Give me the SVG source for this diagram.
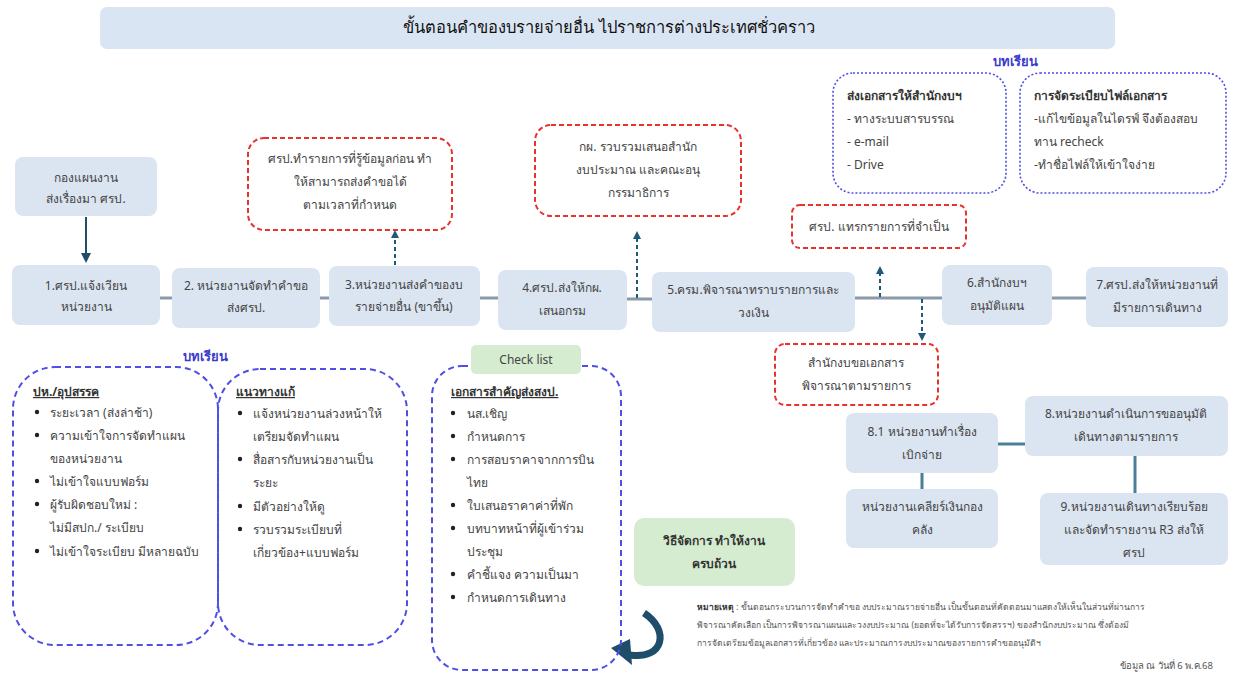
<svg xmlns="http://www.w3.org/2000/svg" width="1237" height="680" viewBox="0 0 1237 680">
<defs>
<style>
.t{font-family:"Noto Sans","Liberation Sans",sans-serif;font-size:12px;fill:#444;text-anchor:middle}
.l{font-family:"Noto Sans","Liberation Sans",sans-serif;font-size:12px;fill:#444}
.b{font-weight:bold;fill:#333}
.u{text-decoration:underline;font-weight:bold;fill:#333}
.n{fill:#dbe5f1;stroke:none}
.g{fill:#d5ecd0;stroke:none}
.rd{fill:#fff;stroke:#e8322e;stroke-width:2;stroke-dasharray:5,3}
.bd{fill:#fff;stroke:#4f4fe6;stroke-width:1.6;stroke-dasharray:2,2}
.bd2{fill:none;stroke:#4f4fe6;stroke-width:2;stroke-dasharray:6,4}
.c{stroke:#8a9aa8;stroke-width:3;fill:none}
.c2{stroke:#4a7f9a;stroke-width:3;fill:none}
.da{stroke:#1f5a7a;stroke-width:2;stroke-dasharray:4,3;fill:none}
.h{font-family:"Noto Sans","Liberation Sans",sans-serif;font-size:13px;font-weight:bold;fill:#3a3acc;text-anchor:middle}
</style>
<marker id="ah" markerWidth="8" markerHeight="8" refX="4" refY="4" orient="auto" markerUnits="userSpaceOnUse">
<path d="M0,0 L8,4 L0,8 z" fill="#1f5a7a"/>
</marker>
<marker id="ah2" markerWidth="10" markerHeight="10" refX="5" refY="5" orient="auto" markerUnits="userSpaceOnUse">
<path d="M0,0 L10,5 L0,10 z" fill="#1f4e6b"/>
</marker>
</defs>
<rect width="1237" height="680" fill="#fff"/>

<g id="title">
<rect x="100" y="7" width="1015" height="42" rx="7" fill="#dae5f3"/>
<text x="609" y="33" font-family="Noto Sans, Liberation Sans, sans-serif" font-size="16.5" fill="#111" text-anchor="middle">ขั้นตอนคำของบรายจ่ายอื่น ไปราชการต่างประเทศชั่วคราว</text>
</g>

<g id="connectors">
<line x1="86" y1="217" x2="86" y2="258" stroke="#1f4e6b" stroke-width="2" marker-end="url(#ah2)"/>
<line class="c" x1="160" y1="298" x2="172" y2="298"/>
<line class="c" x1="320" y1="298" x2="329" y2="298"/>
<line class="c" x1="480" y1="298" x2="498" y2="298"/>
<line class="c" x1="627" y1="299" x2="652" y2="299"/>
<line class="c" x1="855" y1="298" x2="942" y2="298"/>
<line class="c" x1="1052" y1="298" x2="1086" y2="298"/>
<line class="da" x1="395" y1="265" x2="395" y2="234" marker-end="url(#ah)"/>
<line class="da" x1="637" y1="298" x2="637" y2="235" marker-end="url(#ah)"/>
<line class="da" x1="880" y1="297" x2="880" y2="270" marker-end="url(#ah)"/>
<line class="da" x1="922" y1="299" x2="922" y2="337" marker-end="url(#ah)"/>
<line class="c2" x1="998" y1="444" x2="1025" y2="444"/>
<line class="c2" x1="922" y1="473" x2="922" y2="489"/>
<line class="c2" x1="1135" y1="456" x2="1135" y2="493"/>
<path d="M644,613 C670,630 664,660 630,655" stroke="#1f4e6b" stroke-width="7" fill="none"/>
<path d="M611,648 L630,639 L632,665 z" fill="#1f4e6b"/>
</g>

<g id="n0"><rect class="n" x="15" y="157" width="142" height="59" rx="8"/>
<text class="t" x="86" y="182">กองแผนงาน</text><text class="t" x="86" y="203">ส่งเรื่องมา ศรป.</text></g>
<g id="n1"><rect class="n" x="12" y="265" width="148" height="60" rx="8"/>
<text class="t" x="86" y="290">1.ศรป.แจ้งเวียน</text><text class="t" x="86" y="311">หน่วยงาน</text></g>
<g id="n2"><rect class="n" x="172" y="268" width="148" height="60" rx="8"/>
<text class="t" x="246" y="290">2. หน่วยงานจัดทำคำขอ</text><text class="t" x="246" y="312">ส่งศรป.</text></g>
<g id="n3"><rect class="n" x="329" y="266" width="151" height="60" rx="8"/>
<text class="t" x="404" y="289">3.หน่วยงานส่งคำของบ</text><text class="t" x="404" y="311">รายจ่ายอื่น (ขาขึ้น)</text></g>
<g id="n4"><rect class="n" x="498" y="270" width="129" height="60" rx="8"/>
<text class="t" x="562" y="292">4.ศรป.ส่งให้กผ.</text><text class="t" x="562" y="315">เสนอกรม</text></g>
<g id="n5"><rect class="n" x="652" y="272" width="203" height="60" rx="8"/>
<text class="t" x="753" y="294">5.ครม.พิจารณาทราบรายการและ</text><text class="t" x="753" y="317">วงเงิน</text></g>
<g id="n6"><rect class="n" x="942" y="265" width="110" height="60" rx="8"/>
<text class="t" x="997" y="287">6.สำนักงบฯ</text><text class="t" x="997" y="310">อนุมัติแผน</text></g>
<g id="n7"><rect class="n" x="1086" y="267" width="142" height="60" rx="8"/>
<text class="t" x="1157" y="289">7.ศรป.ส่งให้หน่วยงานที่</text><text class="t" x="1157" y="312">มีรายการเดินทาง</text></g>

<g id="r1"><rect class="rd" x="248" y="138" width="204" height="92" rx="16"/>
<text class="t" x="350" y="163">ศรป.ทำรายการที่รู้ข้อมูลก่อน ทำ</text><text class="t" x="350" y="186">ให้สามารถส่งคำขอได้</text><text class="t" x="350" y="209">ตามเวลาที่กำหนด</text></g>
<g id="r2"><rect class="rd" x="535" y="125" width="206" height="91" rx="16"/>
<text class="t" x="638" y="151">กผ. รวบรวมเสนอสำนัก</text><text class="t" x="638" y="174">งบประมาณ และคณะอนุ</text><text class="t" x="638" y="197">กรรมาธิการ</text></g>
<g id="r3"><rect class="rd" x="792" y="205" width="174" height="43" rx="8"/>
<text class="t" x="879" y="231">ศรป. แทรกรายการที่จำเป็น</text></g>
<g id="r4"><rect class="rd" x="775" y="344" width="163" height="61" rx="10"/>
<text class="t" x="856" y="367">สำนักงบขอเอกสาร</text><text class="t" x="856" y="390">พิจารณาตามรายการ</text></g>

<text class="h" x="1015" y="66">บทเรียน</text>
<g id="l1"><rect class="bd" x="833" y="73" width="173" height="120" rx="20"/>
<text class="l b" x="847" y="100">ส่งเอกสารให้สำนักงบฯ</text>
<text class="l" x="847" y="123">- ทางระบบสารบรรณ</text>
<text class="l" x="847" y="146">- e-mail</text>
<text class="l" x="847" y="169">- Drive</text></g>
<g id="l2"><rect class="bd" x="1020" y="73" width="206" height="120" rx="20"/>
<text class="l b" x="1034" y="100">การจัดระเบียบไฟล์เอกสาร</text>
<text class="l" x="1034" y="123">-แก้ไขข้อมูลในไดรฟ์ จึงต้องสอบ</text>
<text class="l" x="1034" y="146">ทาน recheck</text>
<text class="l" x="1034" y="169">-ทำชื่อไฟล์ให้เข้าใจง่าย</text></g>

<g id="n8"><rect class="n" x="1025" y="396" width="203" height="60" rx="8"/>
<text class="t" x="1126" y="418">8.หน่วยงานดำเนินการขออนุมัติ</text><text class="t" x="1126" y="441">เดินทางตามรายการ</text></g>
<g id="n81"><rect class="n" x="846" y="413" width="152" height="60" rx="8"/>
<text class="t" x="922" y="436">8.1 หน่วยงานทำเรื่อง</text><text class="t" x="922" y="459">เบิกจ่าย</text></g>
<g id="n82"><rect class="n" x="846" y="489" width="152" height="59" rx="8"/>
<text class="t" x="922" y="511">หน่วยงานเคลียร์เงินกอง</text><text class="t" x="922" y="534">คลัง</text></g>
<g id="n9"><rect class="n" x="1040" y="493" width="188" height="72" rx="8"/>
<text class="t" x="1134" y="511">9.หน่วยงานเดินทางเรียบร้อย</text><text class="t" x="1134" y="534">และจัดทำรายงาน R3 ส่งให้</text><text class="t" x="1134" y="557">ศรป</text></g>

<text class="h" x="205" y="361">บทเรียน</text>
<g id="lA"><rect class="bd2" x="13" y="367" width="205" height="278" rx="42"/>
<text class="l u" x="33" y="396">ปห./อุปสรรค</text>
<circle cx="37" cy="412" r="2.2" fill="#222"/><circle cx="37" cy="435" r="2.2" fill="#222"/><circle cx="37" cy="481" r="2.2" fill="#222"/><circle cx="37" cy="504" r="2.2" fill="#222"/><circle cx="37" cy="551" r="2.2" fill="#222"/>
<text class="l" x="50" y="417">ระยะเวลา (ส่งล่าช้า)</text>
<text class="l" x="50" y="440">ความเข้าใจการจัดทำแผน</text>
<text class="l" x="50" y="463">ของหน่วยงาน</text>
<text class="l" x="50" y="486">ไม่เข้าใจแบบฟอร์ม</text>
<text class="l" x="50" y="509">ผู้รับผิดชอบใหม่ :</text>
<text class="l" x="50" y="532">ไม่มีสปก./ ระเบียบ</text>
<text class="l" x="50" y="556">ไม่เข้าใจระเบียบ มีหลายฉบับ</text></g>
<g id="lB"><rect class="bd2" x="218" y="369" width="189" height="276" rx="42"/>
<text class="l u" x="236" y="396">แนวทางแก้</text>
<circle cx="240" cy="413" r="2.2" fill="#222"/><circle cx="240" cy="459" r="2.2" fill="#222"/><circle cx="240" cy="506" r="2.2" fill="#222"/><circle cx="240" cy="529" r="2.2" fill="#222"/>
<text class="l" x="253" y="418">แจ้งหน่วยงานล่วงหน้าให้</text>
<text class="l" x="253" y="441">เตรียมจัดทำแผน</text>
<text class="l" x="253" y="464">สื่อสารกับหน่วยงานเป็น</text>
<text class="l" x="253" y="487">ระยะ</text>
<text class="l" x="253" y="511">มีตัวอย่างให้ดู</text>
<text class="l" x="253" y="534">รวบรวมระเบียบที่</text>
<text class="l" x="253" y="557">เกี่ยวข้อง+แบบฟอร์ม</text></g>

<g id="check"><rect class="bd2" x="432" y="366" width="189" height="304" rx="30"/>
<rect class="g" x="471" y="345" width="110" height="29" rx="5"/>
<text class="t" x="526" y="364" fill="#333">Check list</text>
<text class="l u" x="451" y="396">เอกสารสำคัญส่งสงป.</text>
<circle cx="453" cy="413" r="2.2" fill="#222"/><circle cx="453" cy="436" r="2.2" fill="#222"/><circle cx="453" cy="459" r="2.2" fill="#222"/><circle cx="453" cy="505" r="2.2" fill="#222"/><circle cx="453" cy="528" r="2.2" fill="#222"/><circle cx="453" cy="574" r="2.2" fill="#222"/><circle cx="453" cy="597" r="2.2" fill="#222"/>
<text class="l" x="467" y="418">นส.เชิญ</text>
<text class="l" x="467" y="441">กำหนดการ</text>
<text class="l" x="467" y="464">การสอบราคาจากการบิน</text>
<text class="l" x="467" y="487">ไทย</text>
<text class="l" x="467" y="510">ใบเสนอราคาค่าที่พัก</text>
<text class="l" x="467" y="533">บทบาทหน้าที่ผู้เข้าร่วม</text>
<text class="l" x="467" y="556">ประชุม</text>
<text class="l" x="467" y="579">คำชี้แจง ความเป็นมา</text>
<text class="l" x="467" y="602">กำหนดการเดินทาง</text></g>

<g id="manage"><rect class="g" x="634" y="518" width="161" height="68" rx="10"/>
<text class="t b" x="714" y="545">วิธีจัดการ ทำให้งาน</text><text class="t b" x="714" y="568">ครบถ้วน</text></g>

<g id="note" font-family="Noto Sans, Liberation Sans, sans-serif" font-size="8.5" fill="#555">
<text x="697" y="610"><tspan font-weight="bold" fill="#333">หมายเหตุ</tspan> : ขั้นตอนกระบวนการจัดทำคำขอ งบประมาณรายจ่ายอื่น เป็นขั้นตอนที่คัดตอนมาแสดงให้เห็นในส่วนที่ผ่านการ</text>
<text x="697" y="628">พิจารณาคัดเลือก เป็นการพิจารณาแผนและวงงบประมาณ (ยอดที่จะได้รับการจัดสรรฯ) ของสำนักงบประมาณ ซึ่งต้องมี</text>
<text x="697" y="646">การจัดเตรียมข้อมูลเอกสารที่เกี่ยวข้อง และประมาณการงบประมาณของรายการคำขออนุมัติฯ</text>
<text x="1213" y="669" text-anchor="end" font-size="9.5">ข้อมูล ณ วันที่ 6 พ.ค.68</text>
</g>
</svg>
